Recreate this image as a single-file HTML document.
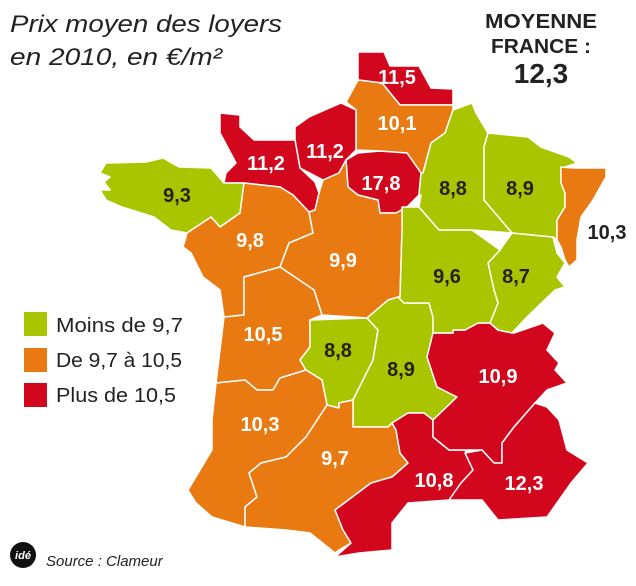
<!DOCTYPE html>
<html><head><meta charset="utf-8"><style>
html,body{margin:0;padding:0;background:#fff;}
svg{display:block;}
text{font-family:"Liberation Sans",sans-serif;}
</style></head><body>
<svg width="636" height="586" viewBox="0 0 636 586" xmlns="http://www.w3.org/2000/svg">
<g stroke="#fff" stroke-width="1.5" stroke-linejoin="round">
<polygon fill="#d2071e" points="358,52 384,52 390,66 419,66 431,88 453,89 453,105 400,105 382,83 358,80"/>
<polygon fill="#e97a12" points="358,80 382,83 400,105 453,105 453,110 445,133 431,143 423,173 421,173 407,153 380,151 356,150 356,110 346,102"/>
<polygon fill="#d2071e" points="295,127 309,117 341,103 356,110 356,150 346,160 339,173 323,180 300,168 295,140"/>
<polygon fill="#d2071e" points="220,113 240,115 240,127 254,140 295,140 300,168 315,182 319,193 315,210 309,212 293,195 280,187 244,183 224,183 226,173 236,163 220,133"/>
<polygon fill="#d2071e" points="346,160 358,153 380,151 407,153 421,173 419,195 407,207 396,213 380,213 378,200 358,195 348,187"/>
<polygon fill="#a9c500" points="106,163 146,162 163,158 179,167 211,168 224,183 244,183 240,213 220,227 211,217 187,233 171,230 154,217 122,207 106,200 100,190 110,190 104,182 110,177 100,173"/>
<polygon fill="#e97a12" points="244,183 280,187 293,195 309,212 313,233 289,243 280,267 244,277 244,315 224,317 220,290 203,277 191,253 183,247 187,233 211,217 220,227 240,213"/>
<polygon fill="#e97a12" points="309,212 315,210 319,193 323,180 339,173 346,160 348,187 358,195 378,200 380,213 396,213 407,207 402,230 400,297 367,318 322,315 314,290 280,267 289,243 313,233"/>
<polygon fill="#e97a12" points="224,317 244,315 244,277 280,267 314,290 322,315 310,320 310,347 300,360 306,370 280,378 273,390 257,390 245,380 216,383"/>
<polygon fill="#a9c500" points="310,320 367,318 378,330 373,360 353,400 339,403 339,408 327,405 322,380 306,370 300,360 310,347"/>
<polygon fill="#a9c500" points="367,318 388,300 398,297 404,303 429,303 433,317 433,333 427,357 437,387 457,397 433,420 424,413 408,413 392,423 388,427 353,427 353,400 373,360 378,330"/>
<polygon fill="#e97a12" points="216,383 245,380 257,390 273,390 280,378 306,370 322,380 327,405 306,437 286,457 261,463 249,473 257,497 245,507 245,527 212,517 196,503 188,490 212,450 212,420"/>
<polygon fill="#e97a12" points="327,405 339,408 339,403 353,400 353,427 388,427 392,423 396,430 400,453 408,463 392,477 371,483 335,510 343,530 351,543 339,550 335,553 310,533 286,530 245,527 245,507 257,497 249,473 261,463 286,457 306,437"/>
<polygon fill="#d2071e" points="392,423 408,413 424,413 433,420 433,437 449,450 465,450 473,470 461,483 449,500 408,503 392,523 392,550 359,553 335,557 351,543 343,530 335,510 371,483 392,477 408,463 400,453 396,430"/>
<polygon fill="#d2071e" points="433,333 453,333 453,330 465,330 478,323 490,323 498,330 514,333 543,323 555,333 547,350 559,363 555,370 567,383 547,390 535,403 514,427 502,443 502,463 494,463 482,450 465,450 449,450 433,437 433,420 457,397 437,387 427,357"/>
<polygon fill="#d2071e" points="535,403 547,407 559,420 567,450 588,463 571,483 547,517 498,520 482,500 449,500 461,483 473,470 465,453 482,450 494,463 502,463 502,443 514,427"/>
<polygon fill="#a9c500" points="500,250 512,233 553,237 557,253 565,263 557,277 565,287 555,290 527,317 512,333 498,330 490,323 498,303 494,290 488,263"/>
<polygon fill="#a9c500" points="402,207 419,207 439,230 472,230 500,250 488,263 494,290 498,303 490,323 478,323 465,330 453,330 453,333 433,333 433,317 429,303 404,303 398,297 400,297 402,230"/>
<polygon fill="#a9c500" points="423,173 431,143 445,133 453,110 472,103 476,113 488,133 484,147 484,200 512,233 472,230 439,230 419,207 421,195 419,195 421,173"/>
<polygon fill="#a9c500" points="488,133 528,137 541,147 569,157 577,163 565,167 561,183 565,193 565,207 557,220 557,240 553,237 512,233 484,200 484,147"/>
<polygon fill="#e97a12" points="561,167 573,168 606,168 606,177 593,200 581,217 577,240 577,260 569,267 565,260 561,247 557,240 557,220 565,207 565,193 561,183"/>
</g>
<text x="10" y="32" font-size="24" font-style="italic" fill="#222" textLength="272" lengthAdjust="spacingAndGlyphs">Prix moyen des loyers</text>
<text x="10" y="65" font-size="24" font-style="italic" fill="#222" textLength="212" lengthAdjust="spacingAndGlyphs">en 2010, en €/m²</text>
<text x="541" y="28" font-size="20" font-weight="bold" text-anchor="middle" fill="#222" textLength="112" lengthAdjust="spacingAndGlyphs">MOYENNE</text>
<text x="541" y="53" font-size="20" font-weight="bold" text-anchor="middle" fill="#222" textLength="100" lengthAdjust="spacingAndGlyphs">FRANCE :</text>
<text x="541" y="83" font-size="28" font-weight="bold" text-anchor="middle" fill="#222">12,3</text>
<rect x="24" y="312" width="23" height="24" fill="#a9c500"/>
<rect x="24" y="348" width="23" height="24" fill="#e97a12"/>
<rect x="24" y="383" width="23" height="24" fill="#d2071e"/>
<g font-size="20" fill="#222">
<text x="56" y="332" textLength="127" lengthAdjust="spacingAndGlyphs">Moins de 9,7</text>
<text x="56" y="367" textLength="126" lengthAdjust="spacingAndGlyphs">De 9,7 à 10,5</text>
<text x="56" y="402" textLength="120" lengthAdjust="spacingAndGlyphs">Plus de 10,5</text>
</g>
<g font-size="20" font-weight="bold" text-anchor="middle">
<text x="397" y="84" fill="#fff">11,5</text>
<text x="397" y="130" fill="#fff">10,1</text>
<text x="325" y="158" fill="#fff">11,2</text>
<text x="266" y="170" fill="#fff">11,2</text>
<text x="381" y="190" fill="#fff">17,8</text>
<text x="177" y="202" fill="#222">9,3</text>
<text x="250" y="247" fill="#fff">9,8</text>
<text x="343" y="267" fill="#fff">9,9</text>
<text x="453" y="195" fill="#222">8,8</text>
<text x="520" y="195" fill="#222">8,9</text>
<text x="607" y="239" fill="#222">10,3</text>
<text x="447" y="283" fill="#222">9,6</text>
<text x="516" y="283" fill="#222">8,7</text>
<text x="263" y="341" fill="#fff">10,5</text>
<text x="338" y="357" fill="#222">8,8</text>
<text x="401" y="376" fill="#222">8,9</text>
<text x="498" y="383" fill="#fff">10,9</text>
<text x="260" y="431" fill="#fff">10,3</text>
<text x="335" y="465" fill="#fff">9,7</text>
<text x="434" y="487" fill="#fff">10,8</text>
<text x="524" y="490" fill="#fff">12,3</text>
</g>
<circle cx="23" cy="555" r="13" fill="#111"/>
<text x="23" y="559" font-size="11" font-weight="bold" font-style="italic" fill="#fff" text-anchor="middle">idé</text>
<text x="46" y="566" font-size="15" font-style="italic" fill="#222">Source : Clameur</text>
</svg>
</body></html>
